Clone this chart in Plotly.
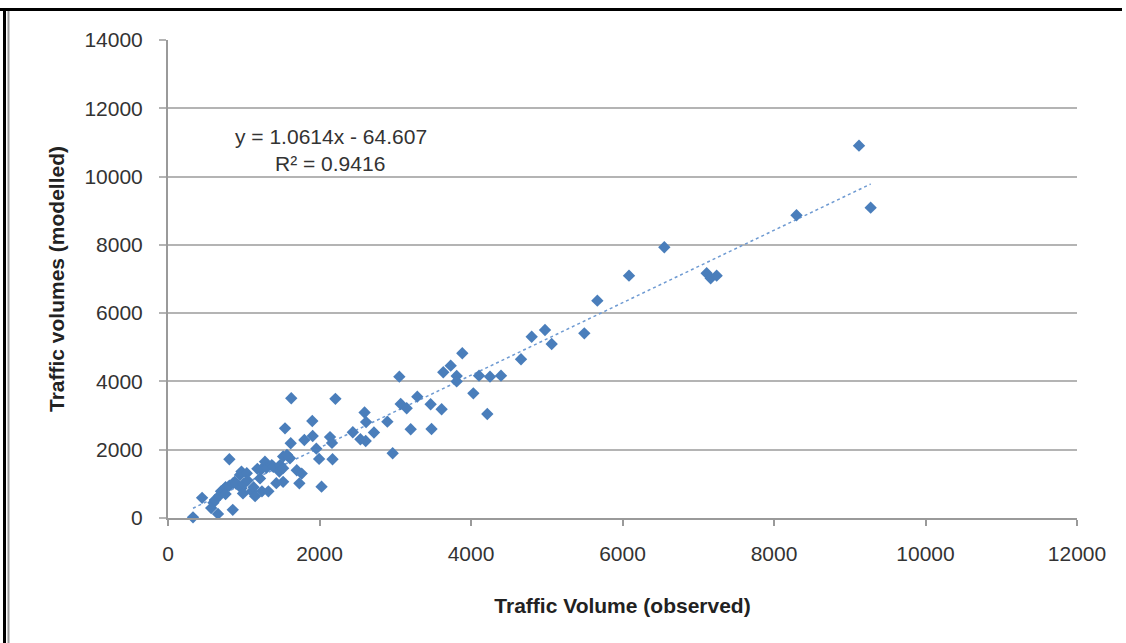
import plotly.graph_objects as go

# Observed vs modelled traffic volumes
observed = [330, 450, 570, 600, 620, 660, 680, 700, 730, 760, 760, 810, 810, 855, 860, 880,
            900, 950, 970, 970, 990, 1000, 1040, 1050, 1105, 1130, 1150, 1180, 1215, 1230,
            1240, 1280, 1300, 1325, 1370, 1390, 1430, 1470, 1480, 1520, 1520, 1545, 1520,
            1570, 1610, 1620, 1627, 1700, 1765, 1734, 1800, 1905, 1910, 1958, 1995, 2027,
            2139, 2165, 2172, 2210, 2440, 2540, 2595, 2615, 2610, 2719, 2896, 2966, 3054,
            3072, 3151, 3204, 3291, 3467, 3479, 3612, 3634, 3732, 3811, 3811, 3885, 4031,
            4106, 4215, 4251, 4396, 4660, 4801, 4977, 5065, 5496, 5668, 6086, 6552, 7111,
            7164, 7243, 8297, 9122, 9276]
modelled = [20, 590, 290, 450, 530, 120, 660, 780, 830, 900, 700, 950, 1720, 240, 1020, 1060,
            1000, 1260, 1360, 870, 720, 1000, 1310, 1100, 780, 900, 640, 1440, 1160, 1420,
            780, 1650, 1470, 780, 1550, 1500, 1020, 1360, 1550, 1460, 1060, 2627, 1800,
            1850, 1750, 2190, 3506, 1400, 1300, 1016, 2285, 2841, 2402, 2030, 1730, 918,
            2370, 2200, 1720, 3490, 2510, 2305, 3090, 2810, 2255, 2505, 2821, 1895, 4139,
            3339, 3213, 2598, 3553, 3330, 2607, 3184, 4268, 4462, 4159, 4000, 4824, 3652,
            4168, 3046, 4139, 4168, 4648, 5310, 5507, 5097, 5409, 6365, 7098, 7929, 7167,
            7021, 7098, 8866, 10905, 9089]

# Linear trendline as stated on the chart
slope = 1.0614
intercept = -64.607
equation_text = "y = 1.0614x - 64.607"
r2_text = "R² = 0.9416"

x_title = "Traffic Volume (observed)"
y_title = "Traffic volumes (modelled)"

W, H = 1126, 643
ML, MR, MT, MB = 168, 49, 40, 125
PW, PH = W - ML - MR, H - MT - MB

def px(xp):
    return (xp - ML) / PW

def py(yp):
    return (H - MB - yp) / PH

trend_x = [min(observed), max(observed)]
trend_y = [slope * v + intercept for v in trend_x]

FONT = "Liberation Sans, Arial, sans-serif"

fig = go.Figure()
fig.add_trace(go.Scatter(
    x=trend_x, y=trend_y, mode="lines",
    line=dict(color="#6E9AD2", width=1.5, dash="dot"),
    hoverinfo="skip", showlegend=False,
))
fig.add_trace(go.Scatter(
    x=observed, y=modelled, mode="markers",
    marker=dict(symbol="diamond", size=9.5, color="#4A7EBB", line=dict(width=0)),
    cliponaxis=False, showlegend=False,
))

fig.update_layout(
    width=W, height=H,
    margin=dict(l=ML, r=MR, t=MT, b=MB, pad=0),
    paper_bgcolor="white", plot_bgcolor="white",
    font=dict(family=FONT, size=21, color="#333333"),
    xaxis=dict(
        range=[0, 12000], dtick=2000, tick0=0, tickformat="d",
        showgrid=False, zeroline=False,
        showline=True, linecolor="#9A9A9A", linewidth=2,
        ticks="outside", ticklen=6, tickwidth=1.5, tickcolor="#9A9A9A",
        ticklabelstandoff=10,
        tickfont=dict(family=FONT, size=21, color="#333333"),
        title=dict(text="<b>" + x_title + "</b>", standoff=34,
                   font=dict(family=FONT, size=21, color="#222222")),
    ),
    yaxis=dict(
        range=[0, 14000], dtick=2000, tick0=0, tickformat="d",
        showgrid=True, gridcolor="#B4B4B4", gridwidth=2,
        zeroline=False,
        showline=True, linecolor="#9A9A9A", linewidth=2,
        ticks="outside", ticklen=7, tickwidth=1.5, tickcolor="#B4B4B4",
        ticklabelstandoff=12,
        tickfont=dict(family=FONT, size=21, color="#333333"),
        title=dict(text="<b>" + y_title + "</b>", standoff=14,
                   font=dict(family=FONT, size=21, color="#222222")),
    ),
    annotations=[
        dict(text=equation_text, xref="paper", yref="paper", x=px(331), y=py(136),
             xanchor="center", yanchor="middle", showarrow=False,
             font=dict(family=FONT, size=21, color="#333333")),
        dict(text=r2_text, xref="paper", yref="paper", x=px(330), y=py(163),
             xanchor="center", yanchor="middle", showarrow=False,
             font=dict(family=FONT, size=21, color="#333333")),
    ],
    shapes=[
        # outer document frame (top and left edges)
        dict(type="line", xref="paper", yref="paper", x0=px(0), x1=px(1122), y0=py(9.5), y1=py(9.5),
             line=dict(color="black", width=3)),
        dict(type="line", xref="paper", yref="paper", x0=px(4.5), x1=px(4.5), y0=py(8), y1=py(643),
             line=dict(color="black", width=3)),
        dict(type="line", xref="paper", yref="paper", x0=px(8.5), x1=px(8.5), y0=py(11), y1=py(643),
             line=dict(color="#9A9A9A", width=2)),
    ],
)

fig.write_html("out.html", config={"displayModeBar": False},
               post_script="document.body.style.margin='0';document.body.style.overflow='hidden';")
